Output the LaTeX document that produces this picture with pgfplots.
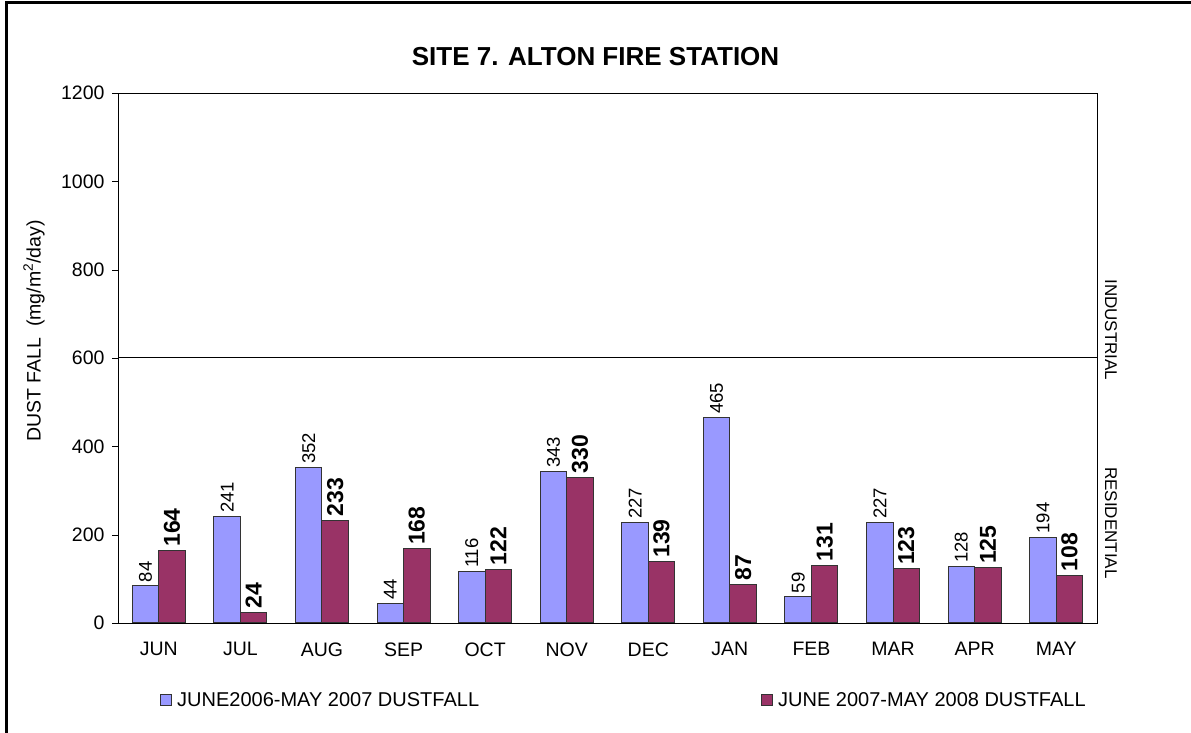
\documentclass[border=0pt]{standalone}
\usepackage{pgfplots}
\pgfplotsset{compat=1.18}
\usepackage{fontspec}
\setmainfont{Liberation Sans}

\definecolor{barblue}{RGB}{153,153,255}
\definecolor{barmaroon}{RGB}{153,51,102}

\begin{document}
\begin{tikzpicture}
% page frame (left and top edges only, as in the screenshot)
\path[use as bounding box] (0pt,0pt) rectangle (1191pt,733pt);
\draw[line width=3pt] (6.5pt,0pt) -- (6.5pt,730.5pt) -- (1191pt,730.5pt);

\node[font=\bfseries\fontsize{26}{28}\selectfont] at (595.5pt,676pt) {SITE 7. ALTON FIRE STATION};

\begin{axis}[
    at={(118pt,110pt)}, anchor=south west,
    scale only axis,
    width=979pt, height=530pt,
    ybar=0pt, bar width=0.325,
    xmin=-0.5, xmax=11.5,
    ymin=0, ymax=1200,
    ytick={0,200,...,1200},
    xtick={0,...,11},
    xticklabels={JUN,JUL,AUG,SEP,OCT,NOV,DEC,JAN,FEB,MAR,APR,MAY},
    major x tick style={draw=none},
    extra x ticks={-0.5,0.5,...,11.5},
    extra x tick labels={},
    extra x tick style={major tick length=6pt, tick style={black, draw=black}},
    xtick pos=bottom, ytick pos=left,
    tick align=outside,
    major tick length=6pt,
    axis line style={black},
    tick style={black},
    /pgf/number format/assume math mode=true,
    /pgf/number format/1000 sep={},
    tick label style={font=\fontsize{19.5}{21}\selectfont},
    yticklabel style={xshift=-4pt},
    xticklabel style={yshift=-10pt},
    ylabel={DUST FALL\ \ (mg/m\textsuperscript{2}/day)},
    every axis y label/.style={at={(axis description cs:-0.0858,0.551)}, rotate=90, anchor=center, font=\fontsize{19.5}{21}\selectfont},
    legend columns=2,
    legend style={draw=none, fill=none, at={(axis description cs:0.0429,-0.145)}, anchor=west,
        font=\fontsize{20}{22}\selectfont, inner sep=0pt,
        /tikz/every odd column/.append style={column sep=3pt}},
    legend image code/.code={\draw[#1] (0pt,-5.5pt) rectangle (11pt,5.5pt);},
    clip=false,
]

\addplot[fill=barblue, draw=black!80, line width=1pt,
    nodes near coords,
    every node near coord/.append style={rotate=90, anchor=west, black, font=\fontsize{18.5}{19}\selectfont}]
coordinates {
    (0,84) (1,241) (2,352) (3,44) (4,116) (5,343)
    (6,227) (7,465) (8,59) (9,227) (10,128) (11,194)
};
\addlegendentry{\makebox[582pt][l]{JUNE2006-MAY 2007 DUSTFALL}}

\addplot[fill=barmaroon, draw=black!80, line width=1pt,
    nodes near coords,
    every node near coord/.append style={rotate=90, anchor=west, black, font=\bfseries\fontsize{23}{23}\selectfont}]
coordinates {
    (0,164) (1,24) (2,233) (3,168) (4,122) (5,330)
    (6,139) (7,87) (8,131) (9,123) (10,125) (11,108)
};
\addlegendentry{JUNE 2007-MAY 2008 DUSTFALL}

% residential / industrial boundary
\draw[black, line width=1pt] (axis cs:-0.5,600) -- (axis cs:11.5,600);
\node[rotate=-90, anchor=base, inner sep=0pt, font=\fontsize{17}{19}\selectfont]
    at ([xshift=8pt]rel axis cs:1,0.553) {INDUSTRIAL};
\node[rotate=-90, anchor=base, inner sep=0pt, font=\fontsize{17}{19}\selectfont]
    at ([xshift=8pt]rel axis cs:1,0.189) {RESIDENTIAL};
\end{axis}
\end{tikzpicture}
\end{document}
